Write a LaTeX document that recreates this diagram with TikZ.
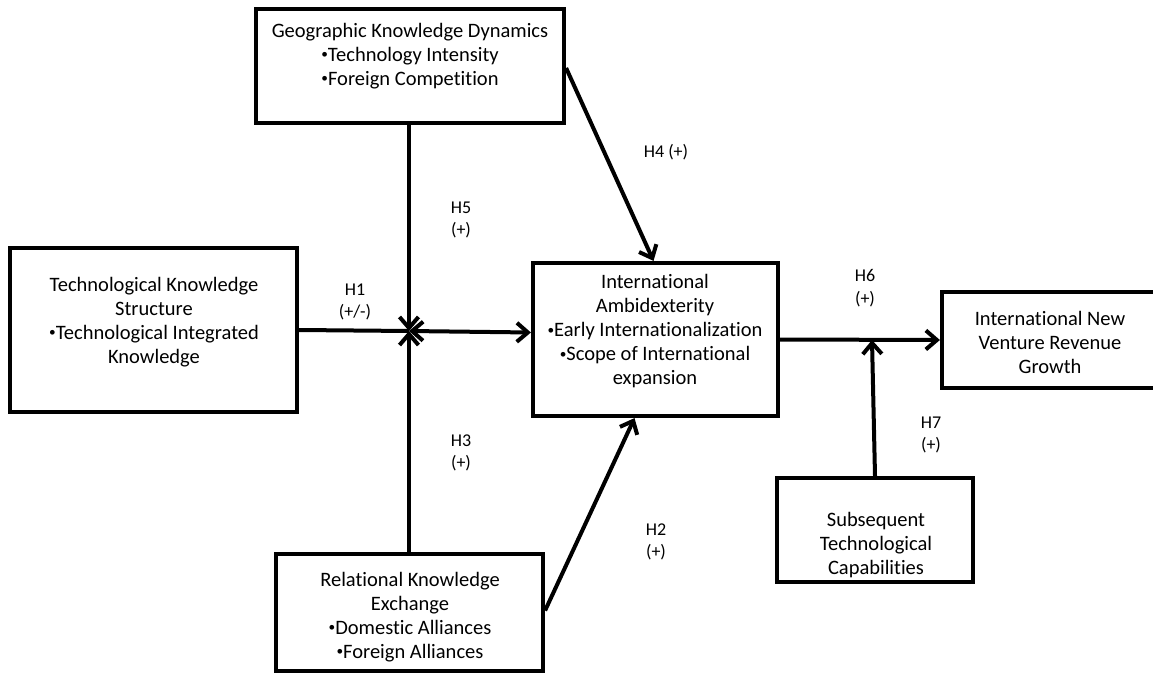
\documentclass[tikz,border=0pt]{standalone}
\usepackage{fontspec}
\setmainfont[Ligatures=NoCommon]{Carlito}
\usetikzlibrary{arrows.meta}
\newcommand{\smbul}{\raisebox{0.12em}{\scalebox{0.65}{\textbullet}}}
\begin{document}
\begin{tikzpicture}[x=1pt,y=-1pt,
  box/.style={draw, line width=4.2pt, inner sep=0pt, minimum width=#1},
  txt/.style={align=center, inner sep=0pt, font=\fontsize{20.5}{24}\selectfont},
  lbl/.style={align=center, inner sep=0pt, font=\fontsize{18}{22.5}\selectfont},
  conn/.style={line width=4pt, -{Straight Barb[length=11pt,width=19pt]}},
  plain/.style={line width=4pt}
]
\useasboundingbox (0,0) rectangle (1153,674);
\clip (0,0) rectangle (1153,674);
% boxes
\node[box=308pt, minimum height=114pt] (geo) at (410,66) {};
\node[box=287pt, minimum height=164pt] (tech) at (153.5,330) {};
\node[box=245pt, minimum height=153pt] (ia) at (655.5,339.5) {};
\node[box=218pt, minimum height=96pt] (inv) at (1051,340) {};
\node[box=196pt, minimum height=104pt] (sub) at (875,530) {};
\node[box=267pt, minimum height=117pt] (rel) at (409.5,612.5) {};
% texts
\node[txt] (geot) at (410,56) {Geographic Knowledge Dynamics\\\smbul Technology Intensity\\\smbul Foreign Competition};
\node[txt] (techt) at (154,322) {Technological Knowledge\\Structure\\\smbul Technological Integrated\\Knowledge};
\node[txt] (iat) at (655,331) {International\\Ambidexterity\\\smbul Early Internationalization\\\smbul Scope of International\\expansion};
\node[txt] (invt) at (1050,342) {International New\\Venture Revenue\\Growth};
\node[txt] (subt) at (876,545) {Subsequent\\Technological\\Capabilities};
\node[txt] (relt) at (410,617) {Relational Knowledge\\Exchange\\\smbul Domestic Alliances\\\smbul Foreign Alliances};
% junctions
\coordinate (J) at (409,331);
\coordinate (K) at (872,340);
% connectors
\draw[plain] (tech.east) -- (J);
\draw[line width=4pt, {Straight Barb[length=11pt,width=19pt]}-{Straight Barb[length=11pt,width=19pt]}] (J) -- ([yshift=7pt]ia.west);
\draw[conn] (geo.south -| J) -- (J);
\draw[conn] (rel.north -| J) -- (J);
\draw[conn] ([yshift=-2pt]geo.east) -- ([xshift=-2pt]ia.north);
\draw[conn] ([yshift=2pt]rel.east) -- ([xshift=-21pt]ia.south);
\draw[conn] (ia.east) -- (inv.west);
\draw[conn] (sub.north) -- (K);
% labels
\node[lbl] (h4) at (666,152) {H4 (+)};
\node[lbl] (h5) at (461,220) {H5\\(+)};
\node[lbl] (h1) at (355,302) {H1\\(+/-)};
\node[lbl] (h6) at (865,288) {H6\\(+)};
\node[lbl] (h3) at (461,453) {H3\\(+)};
\node[lbl] (h7) at (931,435) {H7\\(+)};
\node[lbl] (h2) at (656,542) {H2\\(+)};
\end{tikzpicture}
\end{document}
